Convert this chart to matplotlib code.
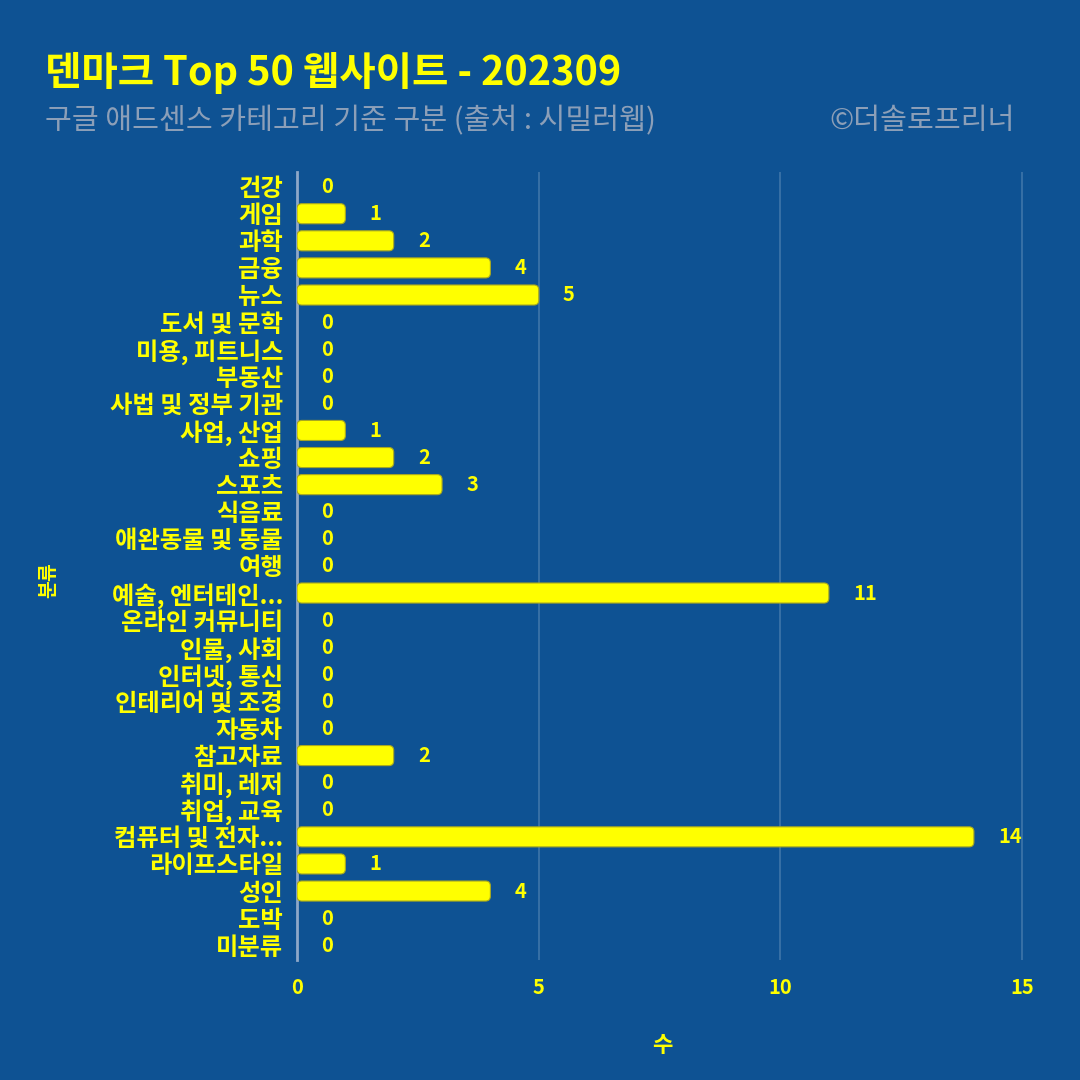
import matplotlib
matplotlib.use("Agg")
import matplotlib.pyplot as plt
from matplotlib.patches import FancyBboxPatch

plt.rcParams['font.family'] = ['Noto Sans CJK KR', 'DejaVu Sans']

# 데이터
categories = ["건강", "게임", "과학", "금융", "뉴스", "도서 및 문학", "미용, 피트니스", "부동산",
              "사법 및 정부 기관", "사업, 산업", "쇼핑", "스포츠", "식음료", "애완동물 및 동물", "여행",
              "예술, 엔터테인...", "온라인 커뮤니티", "인물, 사회", "인터넷, 통신", "인테리어 및 조경",
              "자동차", "참고자료", "취미, 레저", "취업, 교육", "컴퓨터 및 전자...", "라이프스타일",
              "성인", "도박", "미분류"]
counts = [0, 1, 2, 4, 5, 0, 0, 0, 0, 1, 2, 3, 0, 0, 0, 11, 0, 0, 0, 0, 0, 2, 0, 0, 14, 1, 4, 0, 0]
x_ticks = [0, 5, 10, 15]

bg = "#0E5293"
yellow = "#FFFF00"

fig = plt.figure(figsize=(10.8, 10.8), dpi=100)
fig.patch.set_facecolor(bg)
ax = fig.add_axes([0.275, 0.111, 0.676, 0.730])
ax.set_facecolor(bg)

ypos = list(range(len(categories)))
bars = ax.barh(ypos, counts, height=0.74, color="none", edgecolor="none")
ax.set_xlim(0, 15.1)
ax.set_ylim(len(categories) - 0.45, -0.55)

# 둥근 모서리 막대
for b in bars:
    w = b.get_width()
    if w <= 0:
        continue
    p = FancyBboxPatch((b.get_x(), b.get_y()), w, b.get_height(),
                       boxstyle="round,pad=0,rounding_size=0.1", mutation_aspect=1.8,
                       facecolor=yellow, edgecolor="#A8A820", linewidth=0.8, zorder=3)
    ax.add_patch(p)

for y, v in zip(ypos, counts):
    ax.text(v + 0.5, y, str(v), va="center", ha="left", color=yellow,
            fontsize=14.5, fontweight="bold", zorder=4)

ax.set_yticks(ypos)
ax.set_yticklabels(categories, fontsize=17.5, fontweight="bold", color=yellow)
ax.set_xticks(x_ticks)
ax.set_xticklabels([str(t) for t in x_ticks], fontsize=14.5, fontweight="bold", color=yellow)
ax.tick_params(axis="both", length=0)
ax.tick_params(axis="x", pad=12)
ax.tick_params(axis="y", pad=10)
ax.grid(axis="x", color="#FFFFFF", alpha=0.2, linewidth=1.2)
ax.set_axisbelow(True)
for s in ["top", "right", "bottom"]:
    ax.spines[s].set_visible(False)
ax.spines["left"].set_color("#8FA8C8")
ax.spines["left"].set_linewidth(2)

ax.set_xlabel("수", fontsize=16, fontweight="bold", color=yellow, labelpad=26)
fig.text(0.045, 0.463, "분류", rotation=90, fontsize=14, fontweight="bold",
         color=yellow, ha="center", va="center")

fig.text(0.042, 0.932, "덴마크 Top 50 웹사이트 - 202309", fontsize=28.5, fontweight="bold",
         color=yellow, ha="left", va="center", style="italic")
fig.text(0.042, 0.888, "구글 애드센스 카테고리 기준 구분 (출처 : 시밀러웹)", fontsize=21,
         color="#8C9FB8", ha="left", va="center", style="italic")
fig.text(0.940, 0.888, "©더솔로프리너", fontsize=21, color="#8C9FB8", ha="right",
         va="center", style="italic")

fig.savefig("out.png", dpi=100, facecolor=bg)
